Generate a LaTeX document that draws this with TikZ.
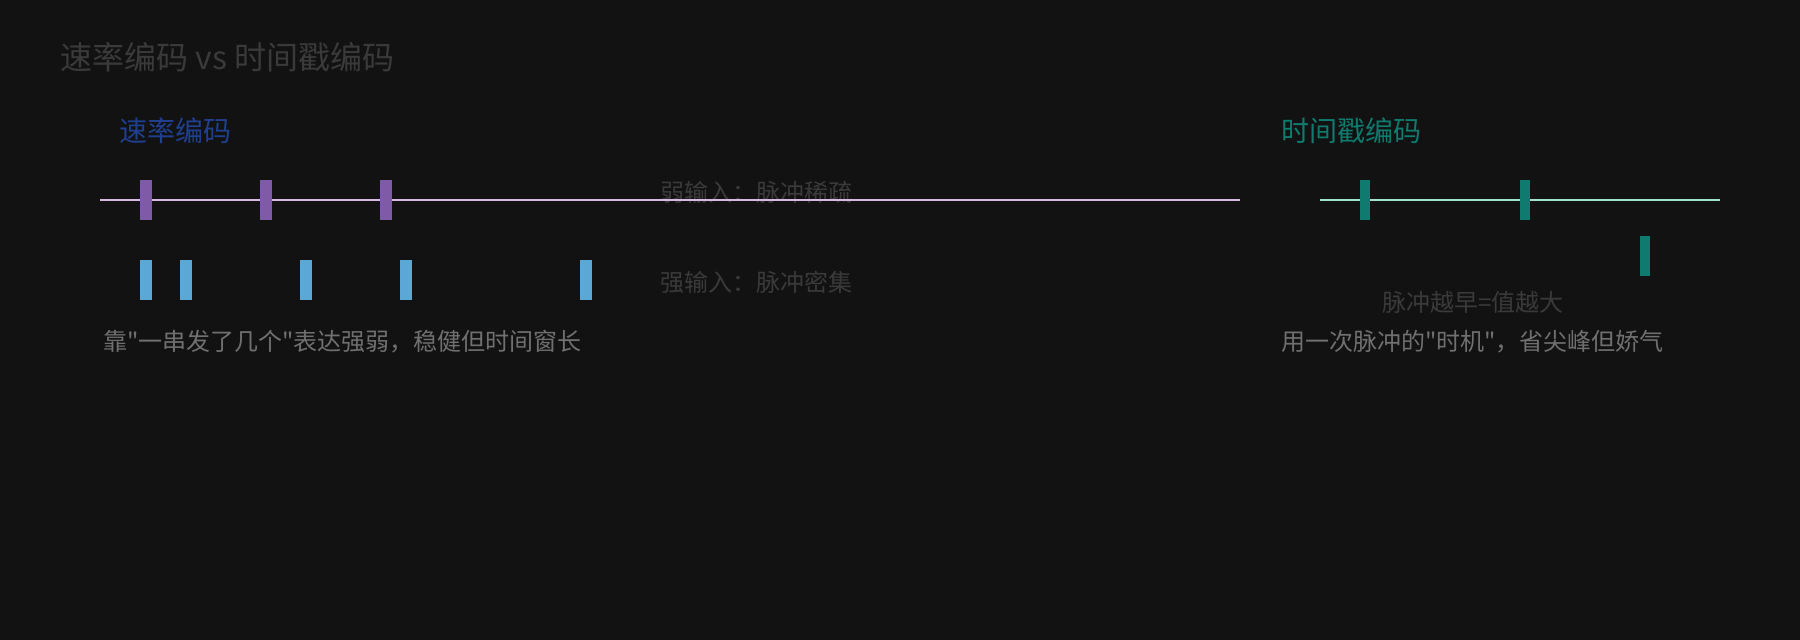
\documentclass[tikz,border=0pt]{standalone}
\usepackage{fontspec}
\setmainfont{Noto Sans CJK SC}[Ligatures=TeXOff]
\definecolor{bgdark}{HTML}{121212}
\definecolor{titlegray}{HTML}{3A3A3A}
\definecolor{notegray}{HTML}{707070}
\definecolor{ratepurple}{HTML}{7F5AA6}
\definecolor{ratelilac}{HTML}{D7B9E6}
\definecolor{rateblue}{HTML}{5BA8D6}
\definecolor{headblue}{HTML}{1F3F8F}
\definecolor{stampteal}{HTML}{0F7A6E}
\definecolor{stampmint}{HTML}{9FE3C9}
\tikzset{
  label text/.style={anchor=west,inner sep=0pt,font=\fontsize{24}{28}\selectfont},
  spike/.style={rectangle,inner sep=0pt,minimum width=12pt,minimum height=40pt},
  axis/.style={line width=2pt}
}

\begin{document}
\begin{tikzpicture}[x=1pt,y=-1pt]
                \fill[bgdark] (0,0) rectangle (1800,640);
                \useasboundingbox (0,0) rectangle (1800,640);
                % headings
                \node (title) [label text,titlegray,font=\fontsize{32}{38}\selectfont] at (60,57) {速率编码 vs 时间戳编码};
                \node (rate) [label text,headblue,font=\fontsize{28}{34}\selectfont] at (119,131) {速率编码};
                \node (stamp) [label text,stampteal,font=\fontsize{28}{34}\selectfont] at (1281,131) {时间戳编码};
                \node (weak) [label text,titlegray] at (660,192) {弱输入：脉冲稀疏};
                \node (strong) [label text,titlegray] at (660,282) {强输入：脉冲密集};
                \node (early) [label text,titlegray,anchor=center] at (1473,302) {脉冲越早=值越大};
                \node (rnote) [label text,notegray] at (103,342) {靠"一串发了几个"表达强弱，稳健但时间窗长};
                \node (snote) [label text,notegray] at (1281,342) {用一次脉冲的"时机"，省尖峰但娇气};
                % time axes
                \coordinate (R0) at (100,200);
                \coordinate (R1) at (1240,200);
                \coordinate (S0) at (1320,200);
                \coordinate (S1) at (1720,200);
                \draw (R0) edge [axis, ratelilac] (R1);
                \draw (S0) edge [axis, stampmint] (S1);
                % spikes
                \begin{scope}[every node/.style={spike,fill=ratepurple}]
                    \foreach \x [count=\i] in {146,266,386}
                        \node (P\i) at (\x,200) {};
                \end{scope}
                \begin{scope}[every node/.style={spike,fill=rateblue}]
                    \foreach \x [count=\i] in {146,186,306,406,586}
                        \node (Q\i) at (\x,280) {};
                \end{scope}
                \begin{scope}[every node/.style={spike,fill=stampteal,minimum width=10pt}]
                    \node (T1) at (1365,200) {};
                    \node (T2) at (1525,200) {};
                    \node (T3) at (1645,256) {};
                \end{scope}
            \end{tikzpicture}
\end{document}
